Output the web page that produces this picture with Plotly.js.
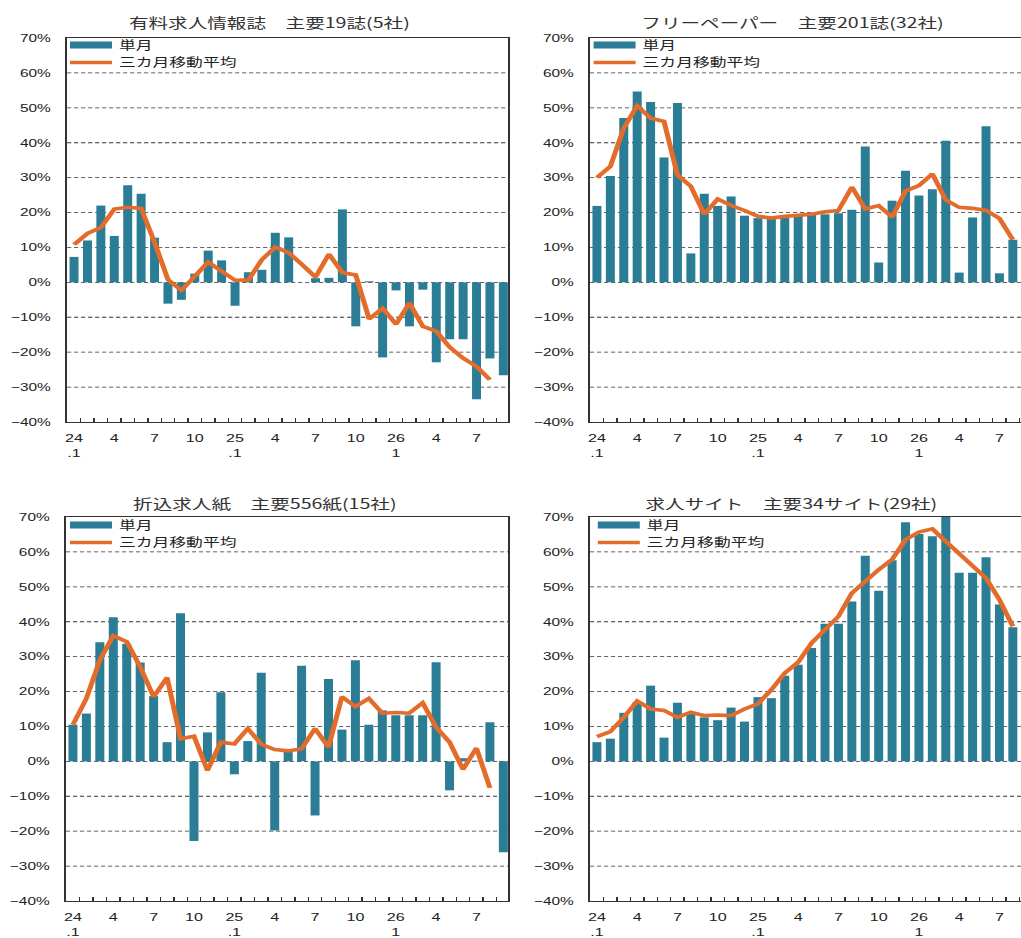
<!DOCTYPE html>
<html>
<head>
<meta charset="utf-8">
<script src="https://cdn.plot.ly/plotly-3.0.1.min.js"></script>
<style>
html, body { margin: 0; padding: 0; overflow: hidden; background: #fff; width: 1021px; height: 938px; }
#chart { width: 750px; height: 938px; transform: scaleX(1.4); transform-origin: 0 0; }
</style>
</head>
<body>
<div id="chart"></div>
<script>
// months: H24.1 .. H26.9
const months = ['24.1','24.2','24.3','24.4','24.5','24.6','24.7','24.8','24.9','24.10','24.11','24.12',
                '25.1','25.2','25.3','25.4','25.5','25.6','25.7','25.8','25.9','25.10','25.11','25.12',
                '26.1','26.2','26.3','26.4','26.5','26.6','26.7','26.8','26.9'];
const tickText = ['24<br>.1','','','4','','','7','','','10','','',
                  '25<br>.1','','','4','','','7','','','10','','',
                  '26<br>1','','','4','','','7','',''];
const yTicks = [-40,-30,-20,-10,0,10,20,30,40,50,60,70];
const yTickText = ['\u221240%','\u221230%','\u221220%','\u221210%','0%','10%','20%','30%','40%','50%','60%','70%'];

const titles = ['有料求人情報誌　主要19誌(5社)', 'フリーペーパー　主要201誌(32社)',
                '折込求人紙　主要556紙(15社)', '求人サイト　主要34サイト(29社)'];
const seriesNames = ['単月', '三カ月移動平均'];

// 有料求人情報誌
const paidMonthly = [7.3, 12, 22, 13.3, 27.8, 25.4, 12.8, -6.1, -5.0, 2.5, 9.1, 6.3, -6.7, 2.9, 3.6, 14.2, 12.9, 0, 1.2, 1.3, 20.9, -12.6, 0.3, -21.5, -2.3, -12.6, -2.1, -22.9, -16.3, -16.3, -33.5, -21.8, -26.6];
const paidAvg = [10.8, 14, 15.7, 21, 21.5, 21.2, 11.5, 0.8, -2.3, 1.8, 5.8, 3.2, 0.6, 0.7, 6.5, 10.1, 8.5, 5.1, 1.5, 8.1, 2.8, 2.1, -10.5, -7.4, -12, -5.9, -12.6, -14, -18.6, -21.7, -24.1, -27.9, null];

// フリーペーパー
const freeMonthly = [21.9, 30.5, 47.1, 54.7, 51.7, 35.8, 51.4, 8.3, 25.4, 21.9, 24.6, 19.1, 18.4, 18.9, 19, 19, 19.3, 19.5, 19.8, 20.8, 38.9, 5.7, 23.4, 32, 24.9, 26.7, 40.6, 2.8, 18.6, 44.7, 2.6, 12.2, 20];
const freeAvg = [30, 33.2, 44.2, 50.6, 47, 46.1, 30.8, 27.5, 19.5, 23.9, 22, 20.6, 18.9, 18.4, 18.9, 19.3, 19.5, 20.2, 20.6, 27.3, 21, 22, 18.7, 26.2, 27.7, 31.1, 23.6, 21.5, 21.2, 20.6, 18.3, 12.2, null];

// 折込求人紙
const insertMonthly = [10.5, 13.7, 34.1, 41.3, 33.7, 28.3, 18.7, 5.5, 42.4, -22.8, 8.3, 19.8, -3.7, 5.8, 25.4, -19.8, 3, 27.4, -15.5, 23.6, 9.1, 29, 10.5, 14.6, 13.2, 13.2, 13.2, 28.4, -8.3, 0.9, 0.2, 11.2, -26];
const insertAvg = [10.5, 18, 29, 36, 34.3, 27.1, 18.5, 24, 6.5, 7.2, -2.6, 5.5, 5, 9.4, 4.9, 3.4, 3, 3.6, 9.4, 4.1, 18.5, 15.7, 18, 13.8, 14, 13.8, 16.8, 9.8, 5.5, -2.3, 3.8, -7.6, null];

// 求人サイト
const siteMonthly = [5.5, 6.5, 13.9, 17, 21.7, 6.8, 16.8, 13.6, 12.6, 11.8, 15.4, 11.4, 18.4, 18.1, 24.5, 27.7, 32.5, 39.4, 39.4, 45.8, 58.9, 48.9, 57.6, 68.5, 65.1, 64.5, 71, 54, 54, 58.5, 44.9, 38.4, 35];
const siteAvg = [7.1, 8.5, 12.6, 17.3, 15, 14.6, 12.6, 14.1, 13.1, 13.3, 13.1, 15, 16.5, 20.5, 25.3, 28.4, 33.9, 37.7, 41.5, 48.2, 51.6, 54.9, 57.8, 63.5, 65.7, 66.6, 63, 59.5, 56, 52.5, 46.3, 38.7, null];

const monthlySeries = [paidMonthly, freeMonthly, insertMonthly, siteMonthly];
const avgSeries = [paidAvg, freeAvg, insertAvg, siteAvg];

const BAR = '#2B7D96';
const LINE = '#E46C2A';
const FONT = '"Noto Sans CJK JP", "Noto Sans", sans-serif';
const TICKFONT = '"Liberation Sans", Arial, sans-serif';
const W = 750, H = 938;

// panel geometry (logical px; page is stretched 1.4x horizontally)
const panels = [
  {x0: 47.9, x1: 362.9, y0: 38, y1: 422, tx: 192.9, ty: 22, lx: 45, ly1: 45, ly2: 62.5},
  {x0: 421.4, x1: 736.4, y0: 38, y1: 422, tx: 565.7, ty: 22, lx: 419, ly1: 45, ly2: 62.5},
  {x0: 47.1, x1: 362.9, y0: 517, y1: 901, tx: 188.6, ty: 503, lx: 45, ly1: 525, ly2: 542.5},
  {x0: 421.4, x1: 736.4, y0: 517, y1: 901, tx: 565.7, ty: 503, lx: 422, ly1: 525, ly2: 542.5}
];

const data = [];
const layout = {
  width: W, height: H,
  margin: {l: 0, r: 0, t: 0, b: 0},
  paper_bgcolor: '#fff', plot_bgcolor: '#fff',
  font: {family: FONT, color: '#222', size: 11},
  bargap: 0.33,
  showlegend: true,
  annotations: []
};

function legendName(n) { return n === 1 ? 'legend' : 'legend' + n; }

panels.forEach((p, i) => {
  const k = i + 1;
  const xa = k === 1 ? 'x' : 'x' + k;
  const ya = k === 1 ? 'y' : 'y' + k;
  const lgA = legendName(2 * i + 1);
  const lgB = legendName(2 * i + 2);

  data.push({
    type: 'bar', x: months, y: monthlySeries[i], xaxis: xa, yaxis: ya,
    marker: {color: BAR, line: {width: 0}}, showlegend: false, name: seriesNames[0], hoverinfo: 'skip'
  });
  // legend sample for the bar series
  data.push({
    type: 'scatter', mode: 'lines', x: [null], y: [null], xaxis: xa, yaxis: ya,
    line: {color: BAR, width: 7}, name: seriesNames[0], legend: lgA
  });
  data.push({
    type: 'scatter', mode: 'lines', x: months, y: avgSeries[i], xaxis: xa, yaxis: ya,
    line: {color: LINE, width: 3.6}, name: seriesNames[1], legend: lgB, connectgaps: false, hoverinfo: 'skip'
  });

  layout['xaxis' + (k === 1 ? '' : k)] = {
    type: 'category', domain: [p.x0 / W, p.x1 / W], anchor: ya,
    range: [-0.52, 32.35], autorange: false,
    tickmode: 'array', tickvals: months, ticktext: tickText, tickangle: 0,
    tickson: 'boundaries', ticks: 'inside', ticklen: 4, tickwidth: 1, tickcolor: '#333',
    showgrid: false, zeroline: false,
    showline: true, mirror: true, linecolor: '#333', linewidth: 1.4,
    tickfont: {size: 11.5, color: '#222', family: TICKFONT},
    ticklabelstandoff: 5, automargin: false, fixedrange: true
  };
  layout['yaxis' + (k === 1 ? '' : k)] = {
    domain: [(H - p.y1) / H, (H - p.y0) / H], anchor: xa,
    range: [-40, 70], autorange: false,
    tickmode: 'array', tickvals: yTicks, ticktext: yTickText,
    showgrid: true, gridcolor: '#333', gridwidth: 0.8, griddash: '3px,2px',
    zeroline: false, ticks: '',
    showline: true, mirror: true, linecolor: '#333', linewidth: 1.4,
    tickfont: {size: 11, color: '#222', family: TICKFONT},
    ticklabelstandoff: 8, automargin: false, fixedrange: true
  };
  [[lgA, p.ly1], [lgB, p.ly2]].forEach(([lg, ly]) => {
    layout[lg] = {
      x: p.lx / W, y: (H - ly) / H, xanchor: 'left', yanchor: 'middle',
      bgcolor: 'rgba(0,0,0,0)', borderwidth: 0,
      font: {family: FONT, size: 12, color: '#222'},
      tracegroupgap: 0, itemwidth: 30, traceorder: 'normal'
    };
  });
  layout.annotations.push({
    xref: 'paper', yref: 'paper', x: p.tx / W, y: (H - p.ty) / H,
    xanchor: 'center', yanchor: 'middle', showarrow: false,
    text: titles[i], font: {family: FONT, size: 14, color: '#333'}
  });
});

Plotly.newPlot('chart', data, layout, {displayModeBar: false, staticPlot: true});
</script>
</body>
</html>
